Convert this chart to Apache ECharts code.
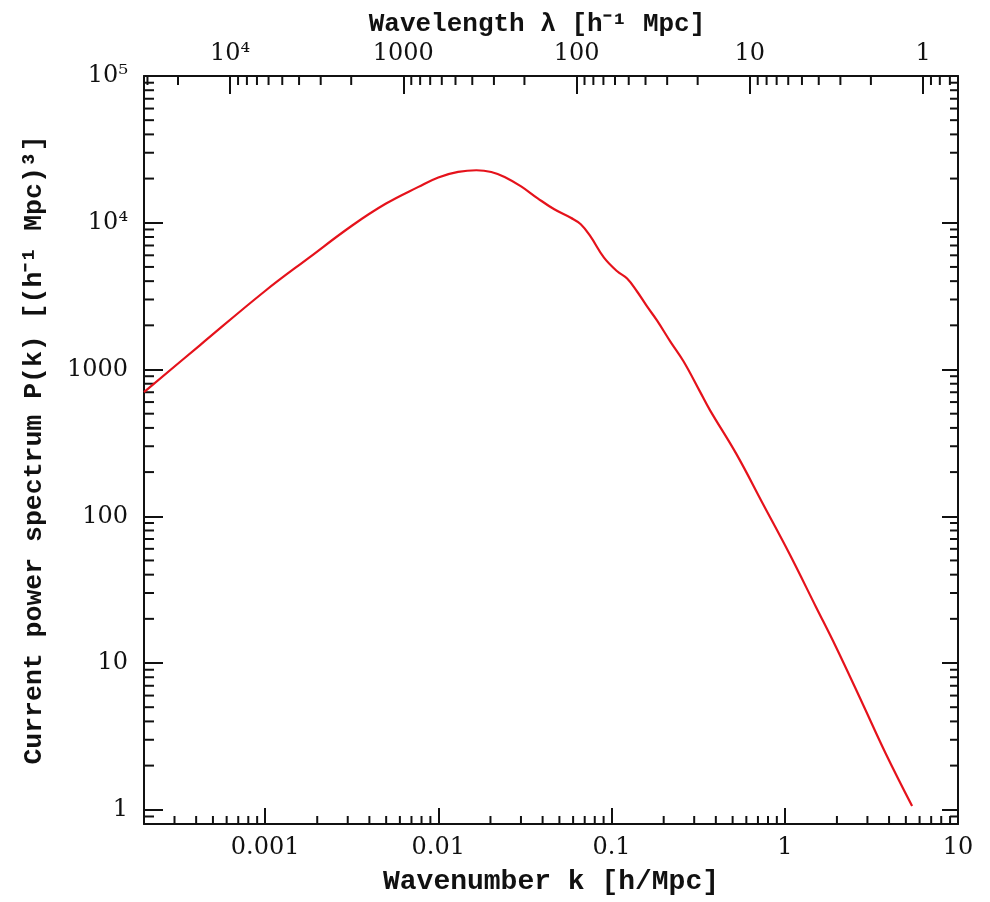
<!DOCTYPE html>
<html>
<head>
<meta charset="utf-8">
<script src="https://cdn.jsdelivr.net/npm/echarts@6/dist/echarts.min.js"></script>
<style>
html,body{margin:0;padding:0;background:#fff;}
#chart{width:990px;height:902px;}
</style>
</head>
<body>
<div id="chart"></div>
<script>
// ---- data ----
const kValues = [2.0e-4, 4.20e-4, 1.0e-3, 1.796e-3, 3.169e-3, 4.964e-3, 7.68e-3,
  0.0100, 0.01302, 0.01659, 0.02022, 0.02414, 0.03005, 0.03748, 0.04671, 0.05817, 0.06643, 0.07575, 0.09044,
  0.1078, 0.1230, 0.1404, 0.1603, 0.1829, 0.2181, 0.2602, 0.3240, 0.3698, 0.5262, 0.7486,
  1.064, 1.514, 1.972, 2.806, 3.818, 5.433];
const pValues = [702, 1462, 3428, 5787, 9541, 13460, 17560,
  20370, 22190, 22790, 22190, 20530, 17690, 14670, 12350, 10810, 9767, 8035, 5787,
  4670, 4168, 3401, 2690, 2161, 1556, 1138, 707, 529, 265, 121.2,
  55.5, 24.1, 12.9, 5.32, 2.43, 1.06];

const kRange = [2e-4, 10];
const pRange = [0.8, 1e5];
const lambdaRange = [2 * Math.PI / kRange[1], 2 * Math.PI / kRange[0]];

const kTicks = [0.001, 0.01, 0.1, 1, 10];
const kTickLabels = ['0.001', '0.01', '0.1', '1', '10'];
const lambdaTicks = [10000, 1000, 100, 10, 1];
const lambdaTickLabels = ['10\u2074', '1000', '100', '10', '1'];
const pTicks = [1, 10, 100, 1000, 10000, 100000];
const pTickLabels = ['1', '10', '100', '1000', '10\u2074', '10\u2075'];
const minorMultipliers = [2, 3, 4, 5, 6, 7, 8, 9];

const xTitle = 'Wavenumber k [h/Mpc]';
const topTitle = 'Wavelength \u03bb [h\u207b\u00b9 Mpc]';
const yTitle = 'Current power spectrum P(k) [(h\u207b\u00b9 Mpc)\u00b3]';

// ---- helpers ----
function labelFor(ticks, labels) {
  return function (v) {
    for (let i = 0; i < ticks.length; i++) {
      if (Math.abs(Math.log10(v) - Math.log10(ticks[i])) < 1e-6) return labels[i];
    }
    return '';
  };
}
function minorTicksIn(range, decades) {
  const out = [];
  decades.forEach(function (d) {
    minorMultipliers.forEach(function (m) {
      const v = m * Math.pow(10, d);
      if (v > range[0] * 1.0001 && v < range[1] * 0.9999) out.push([v]);
    });
  });
  return out;
}

const INK = '#111';
const titleFont = { fontFamily: 'Liberation Mono', fontWeight: 'bold', fontSize: 26, color: INK };
const tickFont = { fontFamily: 'DejaVu Serif', fontSize: 24, color: INK };

const chart = echarts.init(document.getElementById('chart'), null, { renderer: 'canvas' });

const option = {
  animation: false,
  backgroundColor: '#fff',
  grid: { left: 144, right: 32, top: 76, bottom: 78, containLabel: false },
  xAxis: [
    {
      type: 'log', logBase: 10, position: 'bottom',
      min: kRange[0], max: kRange[1],
      name: xTitle, nameLocation: 'middle', nameGap: 44,
      nameTextStyle: Object.assign({}, titleFont, { fontSize: 28 }),
      axisLine: { show: true, onZero: false, lineStyle: { color: INK, width: 2 } },
      axisTick: { show: true, inside: true, length: 16, lineStyle: { color: INK, width: 2 } },
      axisLabel: Object.assign({ margin: 12, formatter: labelFor(kTicks, kTickLabels) }, tickFont),
      splitLine: { show: false }
    },
    {
      type: 'log', logBase: 10, position: 'top', inverse: true,
      min: lambdaRange[0], max: lambdaRange[1],
      name: topTitle, nameLocation: 'middle', nameGap: 38,
      nameTextStyle: Object.assign({ padding: [0, 28, 0, 0] }, titleFont),
      axisLine: { show: true, onZero: false, lineStyle: { color: INK, width: 2 } },
      axisTick: { show: true, inside: true, length: 18, lineStyle: { color: INK, width: 2 } },
      axisLabel: Object.assign({ margin: 10, formatter: labelFor(lambdaTicks, lambdaTickLabels) }, tickFont),
      splitLine: { show: false }
    }
  ],
  yAxis: [
    {
      type: 'log', logBase: 10, position: 'left',
      min: pRange[0], max: pRange[1],
      name: yTitle, nameLocation: 'middle', nameGap: 96, nameRotate: 90,
      nameTextStyle: Object.assign({}, titleFont, { fontSize: 26.5 }),
      axisLine: { show: true, onZero: false, lineStyle: { color: INK, width: 2 } },
      axisTick: { show: true, inside: true, length: 19, lineStyle: { color: INK, width: 2 } },
      axisLabel: Object.assign({ margin: 16, formatter: labelFor(pTicks, pTickLabels) }, tickFont),
      splitLine: { show: false }
    },
    {
      type: 'log', logBase: 10, position: 'right',
      min: pRange[0], max: pRange[1],
      axisLine: { show: true, onZero: false, lineStyle: { color: INK, width: 2 } },
      axisTick: { show: true, inside: true, length: 16, lineStyle: { color: INK, width: 2 } },
      axisLabel: { show: false },
      splitLine: { show: false }
    }
  ],
  series: [
    {
      name: 'P(k)', type: 'line',
      xAxisIndex: 0, yAxisIndex: 0,
      data: kValues.map(function (k, i) { return [k, pValues[i]]; }),
      showSymbol: false, smooth: 0.4, clip: true,
      lineStyle: { color: '#e5121b', width: 2.2 },
      z: 5
    },
    {
      // minor ticks, bottom axis (k)
      type: 'custom', xAxisIndex: 0, yAxisIndex: 0, silent: true,
      data: minorTicksIn(kRange, [-4, -3, -2, -1, 0]),
      encode: { x: 0 },
      renderItem: function (params, api) {
        const cs = params.coordSys;
        const x = api.coord([api.value(0), pRange[1]])[0];
        const yb = cs.y + cs.height;
        return { type: 'line', shape: { x1: x, y1: yb, x2: x, y2: yb - 8 }, style: { stroke: INK, lineWidth: 2 } };
      }
    },
    {
      // minor ticks, top axis (wavelength)
      type: 'custom', xAxisIndex: 1, yAxisIndex: 0, silent: true,
      data: minorTicksIn(lambdaRange, [-1, 0, 1, 2, 3, 4]),
      encode: { x: 0 },
      renderItem: function (params, api) {
        const cs = params.coordSys;
        const x = api.coord([api.value(0), pRange[1]])[0];
        const yt = cs.y;
        return { type: 'line', shape: { x1: x, y1: yt, x2: x, y2: yt + 9 }, style: { stroke: INK, lineWidth: 2 } };
      }
    },
    {
      // minor ticks, left and right axes (P)
      type: 'custom', xAxisIndex: 0, yAxisIndex: 0, silent: true,
      data: minorTicksIn(pRange, [-1, 0, 1, 2, 3, 4]),
      encode: { y: 0 },
      renderItem: function (params, api) {
        const cs = params.coordSys;
        const y = api.coord([kRange[0], api.value(0)])[1];
        return {
          type: 'group',
          children: [
            { type: 'line', shape: { x1: cs.x, y1: y, x2: cs.x + 10, y2: y }, style: { stroke: INK, lineWidth: 2 } },
            { type: 'line', shape: { x1: cs.x + cs.width, y1: y, x2: cs.x + cs.width - 8, y2: y }, style: { stroke: INK, lineWidth: 2 } }
          ]
        };
      }
    }
  ]
};

chart.setOption(option);
</script>
</body>
</html>
